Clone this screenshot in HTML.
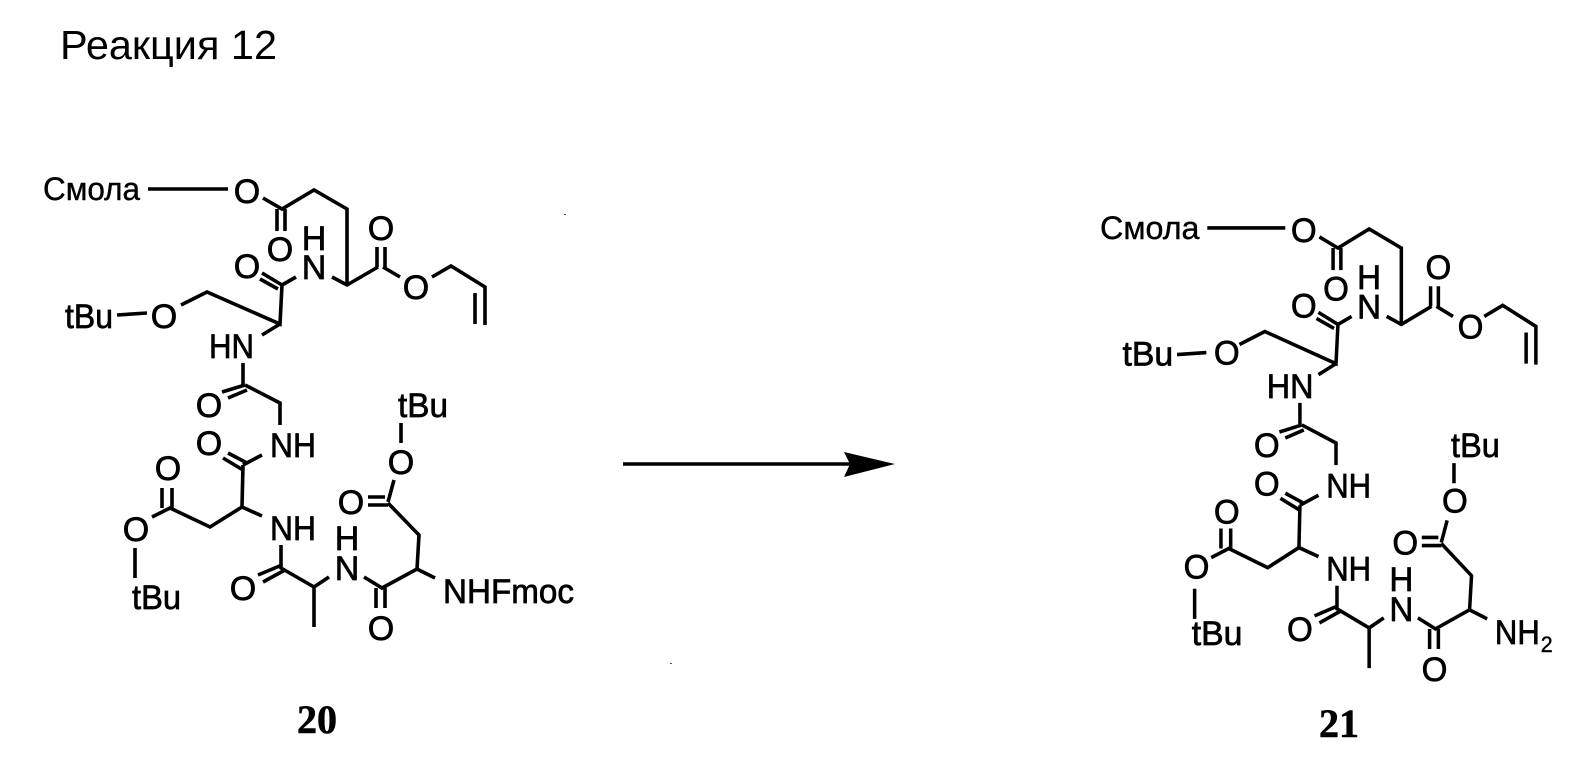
<!DOCTYPE html>
<html><head><meta charset="utf-8"><style>
html,body{margin:0;padding:0;background:#fff;width:1593px;height:763px;overflow:hidden}
svg{display:block}
text{font-family:"Liberation Sans",sans-serif;fill:#000}
.a{font-size:34px;text-anchor:middle;stroke:#000;stroke-width:.7px}
.l{font-size:34px;stroke:#000;stroke-width:.7px}
.s{font-size:32px;stroke:#000;stroke-width:.4px}
.b{font-family:"Liberation Serif",serif;font-weight:bold;font-size:40px;stroke:#000;stroke-width:.6px}
</style></head><body>
<svg width="1593" height="763" viewBox="0 0 1593 763" xmlns="http://www.w3.org/2000/svg">
<defs>
<path id="bonds" fill="none" stroke="#000" stroke-width="3.6" d="M148 189H228M263 198L282 209L314 190L347 209V285M277 209V231M285 209V231M332 277L347 285L378 267M377 267V247M385 267V247M383 267L400 277M432 277L451 266L485 287V325M475 293V324M296 277L282 285M282 285L262 273M278 289L260 279M282 285L280 324L207 292L181 305M117 315L147 313M280 324L262 335M243 363L243 385M245 385L222 392M247 390L228 398M245 385L280 403V425M262 455L243 465M243 470L223 458M247 463L228 453M243 465L242 507L262 516M242 507L210 527L170 508L152 517M162 508V488M172 508V488M135 548V578M281 545V568L314 587V627M314 587L329 577M282 565L258 575M285 570L263 582M364 577L382 588L417 569L435 578M376 588V608M385 588V608M417 569L419 535L388 503M368 497H385M368 505H388M388 502L394 480M401 423V443"/>
</defs>
<text x="60" y="59" font-size="41" textLength="217" lengthAdjust="spacingAndGlyphs">Реакция 12</text>

<use href="#bonds"/>
<text class="s" x="43" y="200" textLength="97" lengthAdjust="spacingAndGlyphs">Смола</text>
<text class="a" x="247" y="203">O</text>
<text class="a" x="280" y="261">O</text>
<text class="a" x="314" y="250">H</text>
<text class="a" x="314" y="279">N</text>
<text class="a" x="381" y="240">O</text>
<text class="a" x="416" y="299">O</text>
<text class="a" x="247" y="278">O</text>
<text class="a" x="164" y="328">O</text>
<text class="l" x="65" y="328" textLength="48" lengthAdjust="spacingAndGlyphs">tBu</text>
<text class="l" x="209" y="358" textLength="45" lengthAdjust="spacingAndGlyphs">HN</text>
<text class="a" x="209" y="417">O</text>
<text class="a" x="209" y="455">O</text>
<text class="l" x="270" y="457" textLength="46" lengthAdjust="spacingAndGlyphs">NH</text>
<text class="a" x="168" y="480">O</text>
<text class="a" x="136" y="541">O</text>
<text class="l" x="132" y="609" textLength="49" lengthAdjust="spacingAndGlyphs">tBu</text>
<text class="l" x="270" y="540" textLength="46" lengthAdjust="spacingAndGlyphs">NH</text>
<text class="a" x="243" y="600">O</text>
<text class="a" x="347" y="550">H</text>
<text class="a" x="347" y="580">N</text>
<text class="a" x="381" y="640">O</text>
<text class="a" x="351" y="514">O</text>
<text class="a" x="401" y="474">O</text>
<text class="l" x="398" y="417" textLength="50" lengthAdjust="spacingAndGlyphs">tBu</text>
<text class="l" x="443" y="603" textLength="131" lengthAdjust="spacingAndGlyphs">NHFmoc</text>
<text class="b" x="297" y="733">20</text>

<path d="M623 464H855" stroke="#000" stroke-width="3.5" fill="none"/>
<path d="M844 452L895 464L844 477L850 464Z" fill="#000"/>
<rect x="564" y="214" width="2" height="1" fill="#555"/>
<rect x="670" y="663" width="2" height="1" fill="#555"/>

<g transform="matrix(.975 0 0 1.005 1063 38)">
<use href="#bonds"/>
<text class="s" x="38" y="200" textLength="102" lengthAdjust="spacingAndGlyphs">Смола</text>
<text class="a" x="247" y="203">O</text>
<text class="a" x="280" y="261">O</text>
<text class="a" x="314" y="250">H</text>
<text class="a" x="314" y="279">N</text>
<text class="a" x="385" y="240">O</text>
<text class="a" x="418" y="299">O</text>
<text class="a" x="247" y="278">O</text>
<text class="a" x="168" y="325">O</text>
<text class="l" x="61" y="326" textLength="52" lengthAdjust="spacingAndGlyphs">tBu</text>
<text class="l" x="209" y="358" textLength="48" lengthAdjust="spacingAndGlyphs">HN</text>
<text class="a" x="209" y="417">O</text>
<text class="a" x="209" y="455">O</text>
<text class="l" x="270" y="457" textLength="46" lengthAdjust="spacingAndGlyphs">NH</text>
<text class="a" x="168" y="483">O</text>
<text class="a" x="137" y="538">O</text>
<text class="l" x="132" y="604" textLength="52" lengthAdjust="spacingAndGlyphs">tBu</text>
<text class="l" x="270" y="540" textLength="46" lengthAdjust="spacingAndGlyphs">NH</text>
<text class="a" x="243" y="600">O</text>
<text class="a" x="347" y="550">H</text>
<text class="a" x="347" y="580">N</text>
<text class="a" x="381" y="640">O</text>
<text class="a" x="351" y="514">O</text>
<text class="a" x="402" y="472">O</text>
<text class="l" x="398" y="417" textLength="50" lengthAdjust="spacingAndGlyphs">tBu</text>
<text class="l" x="443" y="603" textLength="46" lengthAdjust="spacingAndGlyphs">NH</text>
<text x="490" y="611" style="font-size:22px;stroke:#000;stroke-width:.4px">2</text>
</g>
<text class="b" x="1319" y="737">21</text>
</svg>
</body></html>
